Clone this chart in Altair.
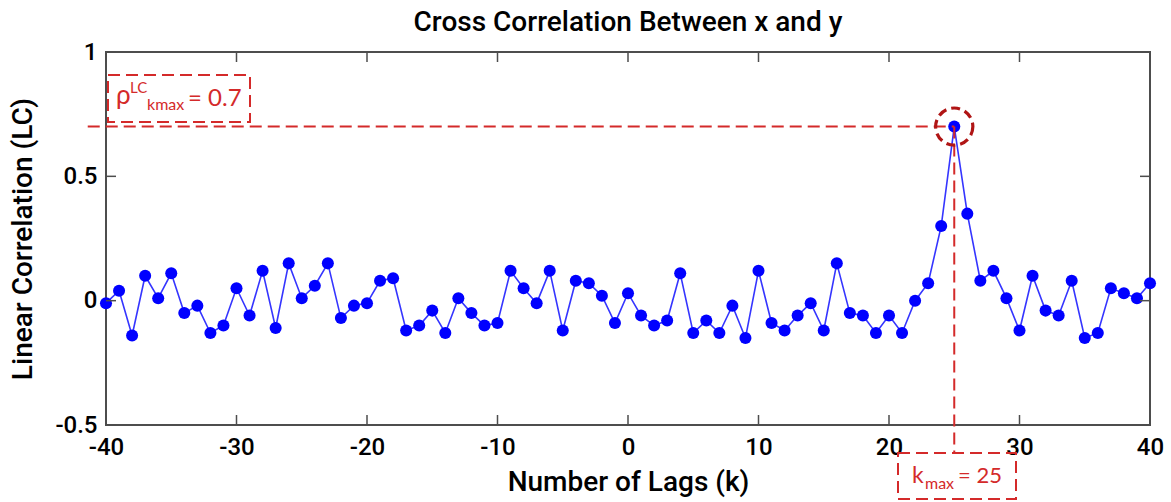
import altair as alt
import pandas as pd

# ---- data ----
lags = list(range(-40, 41))
corr = [
    -0.01, 0.04, -0.14, 0.10, 0.01, 0.11, -0.05, -0.02, -0.13, -0.10,
    0.05, -0.06, 0.12, -0.11, 0.15, 0.01, 0.06, 0.15, -0.07, -0.02,
    -0.01, 0.08, 0.09, -0.12, -0.10, -0.04, -0.13, 0.01, -0.05, -0.10,
    -0.09, 0.12, 0.05, -0.01, 0.12, -0.12, 0.08, 0.07, 0.02, -0.09,
    0.03, -0.06, -0.10, -0.08, 0.11, -0.13, -0.08, -0.13, -0.02, -0.15,
    0.12, -0.09, -0.12, -0.06, -0.01, -0.12, 0.15, -0.05, -0.06, -0.13,
    -0.06, -0.13, 0.00, 0.07, 0.30, 0.70, 0.35, 0.08, 0.12, 0.01,
    -0.12, 0.10, -0.04, -0.06, 0.08, -0.15, -0.13, 0.05, 0.03, 0.01,
    0.07,
]
x_ticks = [-40, -30, -20, -10, 0, 10, 20, 30, 40]
y_ticks = [-0.5, 0, 0.5, 1]
k_max = 25
rho_max = 0.7

df = pd.DataFrame({"lag": lags, "corr": corr})
xt = pd.DataFrame({"t": x_ticks})
yt = pd.DataFrame({"t": y_ticks})

W, H = 1044, 373
FONT = "Roboto"
WEIGHT = 500
RED = "#d42a2a"
ONE = alt.Data(values=[{}])

xs = alt.Scale(domain=[-40, 40], nice=False, zero=False)
ys = alt.Scale(domain=[-0.5, 1], nice=False, zero=False)

common = dict(grid=False, ticks=False, tickSize=0, domain=False,
              labelFontSize=24, labelFontWeight=WEIGHT, labelFont=FONT,
              labelColor="black", titleFontSize=28, titleFont=FONT,
              titleFontWeight=WEIGHT, titleColor="black", labelFlush=False,
              labelExpr="datum.value + ''")

xenc = alt.X("lag:Q", scale=xs,
             axis=alt.Axis(values=x_ticks, title="Number of Lags (k)",
                           labelPadding=10, titlePadding=9, **common))
yenc = alt.Y("corr:Q", scale=ys,
             axis=alt.Axis(values=y_ticks, title="Linear Correlation (LC)",
                           labelPadding=9, titlePadding=17, **common))

line = alt.Chart(df).mark_line(color="#3535ff", strokeWidth=1.6).encode(x=xenc, y=yenc)
pts = alt.Chart(df).mark_circle(size=145, color="#0000ff", opacity=1).encode(
    x=alt.X("lag:Q", scale=xs), y=alt.Y("corr:Q", scale=ys))

tick_col = "#4d4d4d"
tb = alt.Chart(xt).mark_rule(color=tick_col, strokeWidth=1.5).encode(
    x=alt.X("t:Q", scale=xs), y=alt.value(H), y2=alt.value(H - 10))
tt = alt.Chart(xt).mark_rule(color=tick_col, strokeWidth=1.5).encode(
    x=alt.X("t:Q", scale=xs), y=alt.value(0), y2=alt.value(10))
tl = alt.Chart(yt).mark_rule(color=tick_col, strokeWidth=1.5).encode(
    y=alt.Y("t:Q", scale=ys), x=alt.value(0), x2=alt.value(10))
tr = alt.Chart(yt).mark_rule(color=tick_col, strokeWidth=1.5).encode(
    y=alt.Y("t:Q", scale=ys), x=alt.value(W), x2=alt.value(W - 10))

hline = alt.Chart(ONE).mark_rule(color=RED, strokeWidth=2, strokeDash=[12, 6]).encode(
    x=alt.datum(-41.4, scale=xs), x2=alt.datum(k_max), y=alt.datum(rho_max, scale=ys))
vline = alt.Chart(ONE).mark_rule(color=RED, strokeWidth=2, strokeDash=[12, 6]).encode(
    x=alt.datum(k_max, scale=xs), y=alt.datum(rho_max, scale=ys), y2=alt.datum(-0.612))
ring = alt.Chart(ONE).mark_point(shape="circle", size=1385, filled=False, color="#b01515",
                                 strokeWidth=3.2, strokeDash=[9, 5], opacity=1).encode(
    x=alt.datum(k_max, scale=xs), y=alt.datum(rho_max, scale=ys))

box1 = alt.Chart(ONE).mark_rect(fill=None, stroke=RED, strokeWidth=2, strokeDash=[12, 6]).encode(
    x=alt.value(2), x2=alt.value(144), y=alt.value(23), y2=alt.value(70))
box2 = alt.Chart(ONE).mark_rect(fill=None, stroke=RED, strokeWidth=2, strokeDash=[12, 6]).encode(
    x=alt.value(792), x2=alt.value(910), y=alt.value(401), y2=alt.value(447))

AF = "Lato"
def txt(s, x, y, size):
    return alt.Chart(ONE).mark_text(text=s, font=AF, fontSize=size, color=RED,
                                    align="left", baseline="alphabetic").encode(
        x=alt.value(x), y=alt.value(y))

texts = [
    txt("ρ", 10, 52, 26),
    txt("LC", 24, 41, 15),
    txt("kmax", 41, 58, 16),
    txt("= 0.7", 82, 54, 24),
    txt("k", 806, 431, 23),
    txt("max", 819, 437, 16),
    txt("= 25", 852, 431, 22),
]

chart = alt.layer(line, pts, tb, tt, tl, tr, hline, vline, ring, box1, box2, *texts).properties(
    width=W, height=H,
    title=alt.TitleParams("Cross Correlation Between x and y", fontSize=28, font=FONT,
                          fontWeight=WEIGHT, color="black", anchor="middle", offset=3),
    autosize=alt.AutoSizeParams(type="none"),
    padding={"left": 106, "top": 52, "right": 21, "bottom": 77},
    background="white",
).configure_view(stroke="#4d4d4d", strokeWidth=2)

chart.save("out.html", embed_options={"renderer": "svg", "actions": False})
